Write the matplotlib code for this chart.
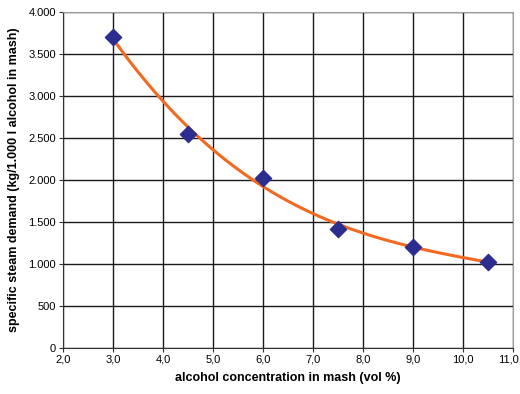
import numpy as np
import matplotlib
matplotlib.use("Agg")
import matplotlib.pyplot as plt
from matplotlib.ticker import FuncFormatter, MultipleLocator

plt.rcParams['font.family'] = ['Liberation Sans', 'DejaVu Sans']

alcohol = [3.0, 4.5, 6.0, 7.5, 9.0, 10.5]
steam = [3700, 2550, 2025, 1420, 1200, 1025]
x_max = 11.0

fig = plt.figure(figsize=(5.2, 3.94), dpi=100)
ax = fig.add_axes([0.121, 0.117, 0.866, 0.853])

coef = np.polyfit(alcohol, steam, 3)
xs = np.linspace(min(alcohol), max(alcohol), 200)
ax.plot(xs, np.polyval(coef, xs), color='#F26A21', lw=2.2, zorder=3)
ax.scatter(alcohol, steam, marker='D', s=68, color='#2B2D8F', zorder=4)

def fmt_x(v, p):
    if abs(v - x_max) < 1e-9:
        return ''
    return f"{v:.1f}".replace('.', ',')

ax.set_xlim(2, x_max)
ax.set_ylim(0, 4000)
ax.xaxis.set_major_locator(MultipleLocator(1))
ax.yaxis.set_major_locator(MultipleLocator(500))
ax.xaxis.set_major_formatter(FuncFormatter(fmt_x))
ax.yaxis.set_major_formatter(FuncFormatter(lambda v, p: f"{int(v):,}".replace(',', '.')))
ax.grid(True, color='#1a1a1a', lw=1.0)
ax.set_axisbelow(True)
for s in ['top', 'right']:
    ax.spines[s].set_color('#a0a0a0')
for s in ['left', 'bottom']:
    ax.spines[s].set_color('#333333')
ax.tick_params(direction='out', length=3, labelsize=8, color='#333333', pad=2)

ax.annotate(f"{x_max:.1f}".replace('.', ','), xy=(x_max, 0), xycoords=('data', 'axes fraction'),
            xytext=(4, -5), textcoords='offset points', ha='right', va='top', fontsize=8)

ax.set_xlabel('alcohol concentration in mash (vol %)', fontsize=9, fontweight='bold', labelpad=5)
ax.set_ylabel('specific steam demand (kg/1.000 l alcohol in mash)', fontsize=9, fontweight='bold', labelpad=6)

fig.savefig('out.png', dpi=100)
